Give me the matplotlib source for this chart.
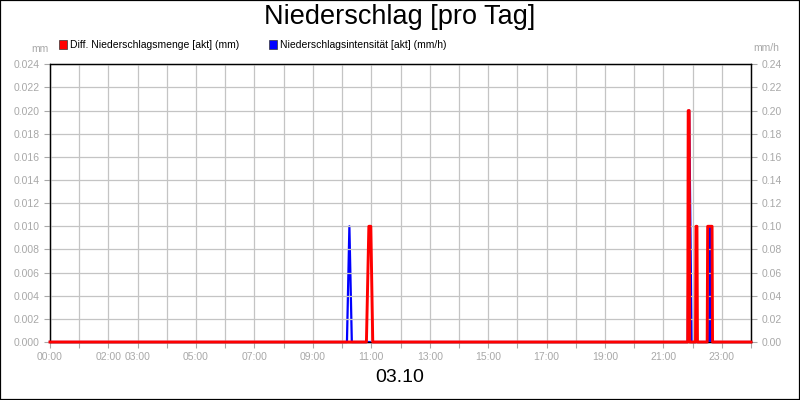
import matplotlib
matplotlib.use("Agg")
import matplotlib.pyplot as plt
from matplotlib.patches import Rectangle
from matplotlib.ticker import MultipleLocator, FuncFormatter, FormatStrFormatter

plt.rcParams['font.family'] = ['Liberation Sans', 'DejaVu Sans']

# ---- data ----
title = "Niederschlag [pro Tag]"
date_label = "03.10"
red_label = "Diff. Niederschlagsmenge [akt] (mm)"
blue_label = "Niederschlagsintensität [akt] (mm/h)"

red_times = ["00:00", "10:50", "10:55", "10:59", "11:03",
             "21:50", "21:51", "21:53", "21:54",
             "22:06", "22:07", "22:09", "22:10",
             "22:30", "22:31", "22:40", "22:41", "24:00"]
red_vals = [0, 0, 0.01, 0.01, 0,
            0, 0.02, 0.02, 0,
            0, 0.01, 0.01, 0,
            0, 0.01, 0.01, 0, 0]

blue_times = ["00:00", "10:10", "10:15", "10:20",
              "21:50", "21:53", "21:58",
              "22:34", "22:36", "22:38", "24:00"]
blue_vals = [0, 0, 0.10, 0,
             0, 0.20, 0,
             0, 0.10, 0, 0]

labeled_hours = [0, 2, 3, 5, 7, 9, 11, 13, 15, 17, 19, 21, 23]


def to_hours(s):
    h, m = s.split(":")
    return int(h) + int(m) / 60.0


rx = [to_hours(t) for t in red_times]
bx = [to_hours(t) for t in blue_times]

grey = "#a8a8a8"
gridc = "#c4c4c4"

fig = plt.figure(figsize=(8, 4), dpi=100)
ax = fig.add_axes([50 / 800, 58 / 400, 701 / 800, 277.7 / 400])
ax2 = ax.twinx()

ax.set_xlim(0, 24)
ax.set_ylim(0, 0.024)
ax2.set_ylim(0, 0.24)

ax.xaxis.set_major_locator(MultipleLocator(1))
ax.xaxis.set_major_formatter(FuncFormatter(
    lambda v, p: ("%02d:00" % int(round(v))) if int(round(v)) in labeled_hours else ""))
ax.yaxis.set_major_locator(MultipleLocator(0.002))
ax.yaxis.set_major_formatter(FormatStrFormatter("%.3f"))
ax2.yaxis.set_major_locator(MultipleLocator(0.02))
ax2.yaxis.set_major_formatter(FormatStrFormatter("%.2f"))

ax.grid(True, color=gridc, linewidth=0.9)
ax.set_axisbelow(True)

for a in (ax, ax2):
    a.tick_params(colors=grey, labelcolor=grey, labelsize=7.5, length=4, width=0.8)
    for s in a.spines.values():
        s.set_color("black")
        s.set_linewidth(0.9)

ax.tick_params(axis='x', pad=3)

# blue first (under), red on top
ax2.plot(bx, blue_vals, color="#0000ff", linewidth=1.6, clip_on=False, zorder=3)
ax.set_zorder(ax2.get_zorder() + 1)
ax.patch.set_visible(False)
ax.plot(rx, red_vals, color="#ff0000", linewidth=2.1, clip_on=False, zorder=4)

# texts
fig.text(0.5, 1 - 17.5 / 400, title, ha="center", va="center", fontsize=19.5, color="black")
fig.text(0.5, 1 - 378 / 400, date_label, ha="center", va="center", fontsize=14, color="black")
fig.text(40 / 800, 1 - 49 / 400, "mm", ha="center", va="center", fontsize=7.5, color=grey)
fig.text(766 / 800, 1 - 48 / 400, "mm/h", ha="center", va="center", fontsize=7.5, color=grey)

# legend
for x0, col, lab in [(58.5, "#ff0000", red_label), (268.5, "#0000ff", blue_label)]:
    fig.patches.append(Rectangle((x0 / 800, 1 - 48.5 / 400), 8 / 800, 8 / 400,
                                 transform=fig.transFigure, facecolor=col,
                                 edgecolor="#333333", linewidth=0.5))
    fig.text((x0 + 11) / 800, 1 - 44.5 / 400, lab, ha="left", va="center",
             fontsize=7.5, color="black")

# outer frame
fig.patches.append(Rectangle((0, 0), 1, 1, transform=fig.transFigure,
                             fill=False, edgecolor="black", linewidth=1.6))

fig.savefig("out.png", dpi=100, facecolor="white")
